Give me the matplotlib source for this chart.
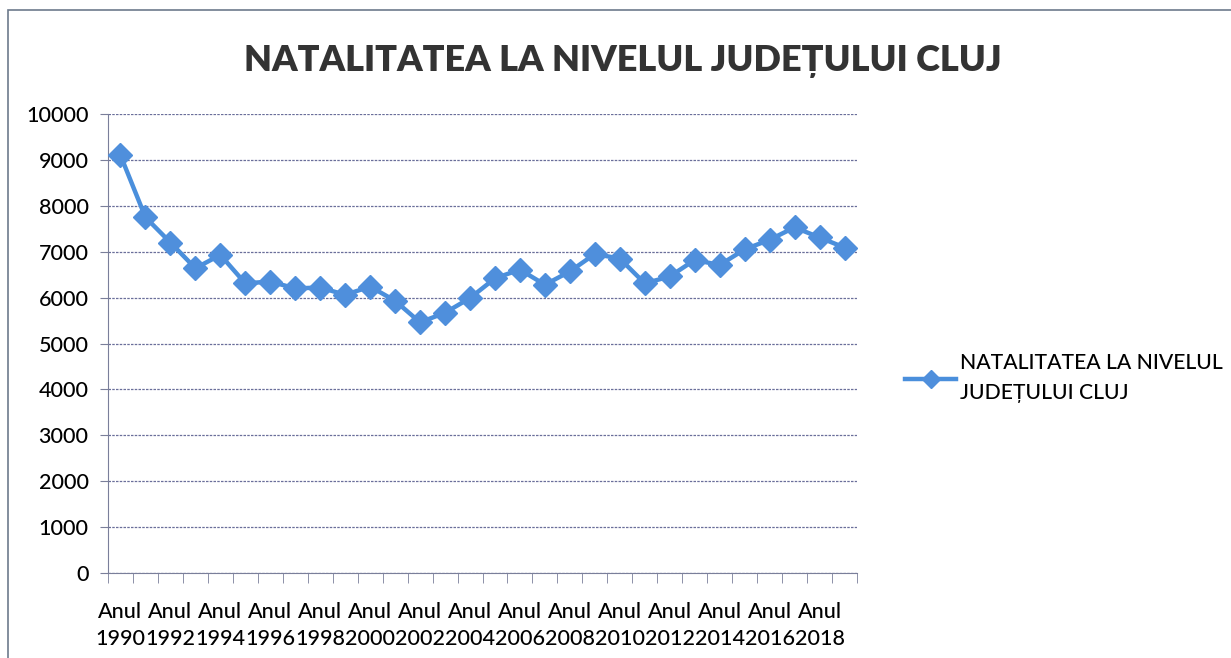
import matplotlib
matplotlib.use("Agg")
import matplotlib.pyplot as plt
from matplotlib.patches import Rectangle
from matplotlib.lines import Line2D

years = list(range(1990, 2020))
births = [9100, 7750, 7200, 6640, 6930, 6310, 6350, 6200, 6220, 6060,
          6240, 5930, 5460, 5670, 5990, 6420, 6610, 6280, 6570, 6950,
          6850, 6310, 6460, 6820, 6710, 7050, 7260, 7530, 7310, 7090]
title = "NATALITATEA LA NIVELUL JUDEȚULUI CLUJ"
series_name = "NATALITATEA LA NIVELUL\nJUDEȚULUI CLUJ"
yticks = [0, 1000, 2000, 3000, 4000, 5000, 6000, 7000, 8000, 9000, 10000]

FONT = "Lato"
blue = "#4a8fdc"

fig = plt.figure(figsize=(12.31, 6.58), dpi=100)
fig.patch.set_facecolor("white")

# outer border (chart area)
fig.add_artist(Rectangle((8 / 1231, -0.1), 1.2, 1 - 10 / 658 + 0.1,
                         transform=fig.transFigure, fill=False,
                         edgecolor="#6d7a8c", lw=1.2))

ax = fig.add_axes([108 / 1231, (658 - 573) / 658, 749 / 1231, 459 / 658])
x = list(range(len(years)))
ax.plot(x, births, color=blue, lw=3.2, marker="D", markersize=12,
        markerfacecolor="#4f8fdc", markeredgecolor="#4f8fdc", zorder=3)

ax.set_xlim(-0.5, len(years) - 0.5)
ax.set_ylim(0, 10000)
ax.set_yticks(yticks)
ax.set_yticklabels([str(v) for v in yticks], fontfamily=FONT, fontsize=15.5,
                   color="#000000", fontweight="medium")
ax.yaxis.grid(True, color="#6a6f9a", lw=0.9, linestyle=(0, (2, 1)))
ax.set_axisbelow(True)

ax.set_xticks(x[::2])
ax.set_xticklabels([f"Anul\n{y}" for y in years[::2]], fontfamily=FONT, fontsize=15.5,
                   color="#000000", linespacing=1.45, fontweight="medium")
ax.set_xticks([i - 0.5 for i in range(len(years) + 1)], minor=True)
ax.tick_params(axis="x", which="major", length=0, pad=21)
ax.tick_params(axis="x", which="minor", length=7, color="#7a7f9a", direction="out")
ax.tick_params(axis="y", length=6, color="#7a7f9a", pad=8)

for s in ["top", "right"]:
    ax.spines[s].set_visible(False)
ax.spines["left"].set_color("#7a7f9a")
ax.spines["bottom"].set_color("#7a7f9a")

fig.text(623 / 1231, 1 - 61 / 658, title, ha="center", va="center",
         fontfamily=FONT, fontweight="heavy", fontsize=26, color="#333333")

# legend
handle = Line2D([], [], color=blue, lw=3.2, marker="D", markersize=9,
                markerfacecolor="#4f8fdc", markeredgecolor="#4f8fdc")
leg = fig.legend([handle], [series_name], loc="center left",
                 bbox_to_anchor=(897 / 1231, 1 - 378 / 658), frameon=False,
                 prop={"family": FONT, "size": 15.2, "weight": "medium"},
                 handlelength=2.4, handletextpad=0.2, borderaxespad=0)
for t in leg.get_texts():
    t.set_color("#000000")
    t.set_linespacing(1.6)

fig.savefig("out.png", dpi=100)
